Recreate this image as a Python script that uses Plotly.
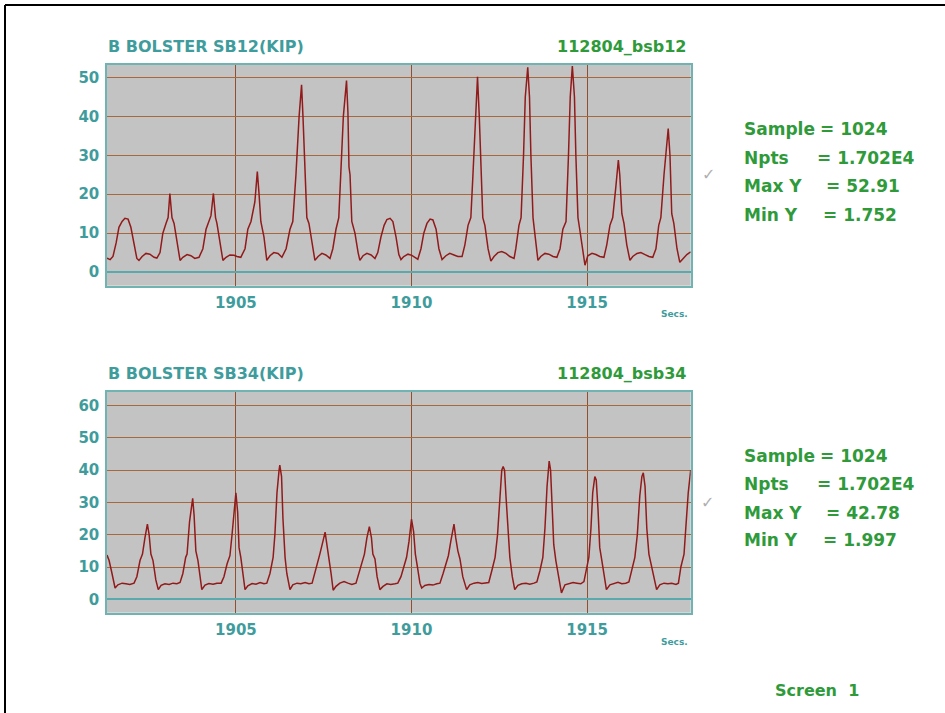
import plotly.graph_objects as go

# ---------------- data ----------------
t_top = [1901.33, 1901.42, 1901.50, 1901.59, 1901.67, 1901.76, 1901.84, 1901.93, 1902.01, 1902.10,
         1902.18, 1902.24, 1902.33, 1902.44, 1902.55, 1902.67, 1902.75, 1902.84, 1902.92, 1903.01,
         1903.07, 1903.12, 1903.18, 1903.24, 1903.32, 1903.41, 1903.49, 1903.61, 1903.72, 1903.83,
         1903.95, 1904.06, 1904.15, 1904.23, 1904.29, 1904.36, 1904.42, 1904.46, 1904.55, 1904.63,
         1904.72, 1904.83, 1904.95, 1905.03, 1905.14, 1905.26, 1905.34, 1905.43, 1905.54, 1905.61,
         1905.66, 1905.71, 1905.80, 1905.88, 1905.97, 1906.08, 1906.20, 1906.31, 1906.43, 1906.54,
         1906.62, 1906.71, 1906.80, 1906.87, 1906.91, 1906.97, 1907.02, 1907.08, 1907.17, 1907.25,
         1907.34, 1907.45, 1907.56, 1907.68, 1907.76, 1907.85, 1907.93, 1907.99, 1908.06, 1908.15,
         1908.19, 1908.22, 1908.25, 1908.30, 1908.39, 1908.48, 1908.53, 1908.62, 1908.73, 1908.85,
         1908.96, 1909.04, 1909.13, 1909.22, 1909.30, 1909.39, 1909.47, 1909.56, 1909.64, 1909.70,
         1909.78, 1909.90, 1910.01, 1910.13, 1910.18, 1910.27, 1910.35, 1910.44, 1910.53, 1910.61,
         1910.70, 1910.78, 1910.87, 1910.98, 1911.09, 1911.21, 1911.32, 1911.44, 1911.52, 1911.61,
         1911.69, 1911.75, 1911.82, 1911.88, 1911.93, 1911.98, 1912.03, 1912.09, 1912.18, 1912.26,
         1912.35, 1912.46, 1912.57, 1912.69, 1912.80, 1912.92, 1912.97, 1913.06, 1913.12, 1913.19,
         1913.24, 1913.31, 1913.36, 1913.40, 1913.46, 1913.51, 1913.60, 1913.68, 1913.80, 1913.91,
         1914.03, 1914.14, 1914.23, 1914.31, 1914.40, 1914.47, 1914.52, 1914.58, 1914.64, 1914.68,
         1914.74, 1914.79, 1914.88, 1914.94, 1915.02, 1915.14, 1915.25, 1915.36, 1915.48, 1915.56,
         1915.65, 1915.73, 1915.82, 1915.89, 1915.93, 1915.99, 1916.05, 1916.13, 1916.22, 1916.30,
         1916.42, 1916.53, 1916.65, 1916.76, 1916.87, 1916.96, 1917.04, 1917.10, 1917.19, 1917.26,
         1917.31, 1917.36, 1917.41, 1917.47, 1917.56, 1917.64, 1917.73, 1917.84, 1917.95]
y_top = [3.6, 3.2, 4.0, 7.5, 11.5, 13.0, 13.8, 13.6, 11.5, 7.0,
         3.5, 3.0, 4.0, 4.8, 4.6, 3.8, 3.6, 5.0, 10.0, 12.5,
         14.0, 20.2, 14.0, 12.5, 8.0, 3.0, 3.8, 4.5, 4.2, 3.5,
         3.8, 6.0, 11.0, 13.0, 14.5, 20.2, 14.0, 12.5, 7.0, 3.0,
         3.8, 4.4, 4.3, 4.0, 3.8, 6.0, 11.0, 13.0, 18.0, 25.8,
         20.0, 13.0, 9.0, 3.0, 4.2, 5.0, 4.8, 3.8, 6.0, 11.0,
         13.0, 25.0, 40.0, 48.1, 40.0, 25.0, 14.0, 12.5, 7.0, 3.0,
         4.0, 4.8, 4.4, 3.5, 6.0, 11.0, 14.0, 25.0, 40.0, 49.2,
         41.0, 27.0, 25.0, 13.0, 10.0, 5.0, 3.0, 4.2, 4.8, 4.4,
         3.5, 5.0, 9.0, 12.0, 13.5, 13.8, 13.0, 9.0, 4.5, 3.2,
         4.0, 4.6, 4.3, 3.6, 3.3, 6.0, 10.0, 12.5, 13.6, 13.4,
         11.0, 6.0, 3.2, 4.2, 4.8, 4.4, 4.0, 4.0, 7.0, 12.0,
         14.0, 25.0, 40.0, 50.2, 40.0, 25.0, 14.0, 12.0, 6.0, 2.8,
         4.0, 5.0, 5.3, 4.8, 4.0, 3.5, 6.0, 12.0, 14.0, 30.0,
         45.0, 52.6, 45.0, 30.0, 14.0, 10.0, 3.0, 4.0, 4.8, 4.6,
         4.0, 3.8, 6.0, 11.0, 13.0, 30.0, 45.0, 52.91, 45.0, 30.0,
         14.0, 11.0, 5.0, 1.752, 4.2, 4.8, 4.5, 4.0, 3.8, 7.0,
         12.0, 14.0, 22.0, 28.8, 25.0, 15.0, 12.5, 7.0, 3.0, 4.0,
         4.8, 5.0, 4.5, 4.0, 3.8, 6.0, 12.0, 14.0, 25.0, 33.0,
         36.9, 30.0, 15.0, 12.5, 6.0, 2.5, 3.5, 4.5, 5.2]

t_bot = [1901.33, 1901.39, 1901.46, 1901.52, 1901.56, 1901.64, 1901.76, 1901.87, 1901.98, 1902.10,
         1902.18, 1902.27, 1902.34, 1902.41, 1902.48, 1902.53, 1902.58, 1902.64, 1902.72, 1902.79,
         1902.87, 1902.98, 1903.10, 1903.21, 1903.32, 1903.41, 1903.49, 1903.57, 1903.61, 1903.68,
         1903.74, 1903.77, 1903.81, 1903.86, 1903.92, 1903.98, 1904.03, 1904.12, 1904.23, 1904.35,
         1904.46, 1904.58, 1904.66, 1904.75, 1904.83, 1904.89, 1904.95, 1905.00, 1905.05, 1905.09,
         1905.14, 1905.20, 1905.26, 1905.34, 1905.46, 1905.57, 1905.69, 1905.80, 1905.88, 1905.97,
         1906.06, 1906.11, 1906.17, 1906.23, 1906.25, 1906.30, 1906.34, 1906.40, 1906.45, 1906.54,
         1906.62, 1906.74, 1906.85, 1906.97, 1907.08, 1907.17, 1907.25, 1907.34, 1907.39, 1907.48,
         1907.54, 1907.59, 1907.65, 1907.71, 1907.77, 1907.85, 1907.96, 1908.08, 1908.19, 1908.30,
         1908.42, 1908.50, 1908.59, 1908.66, 1908.73, 1908.80, 1908.86, 1908.90, 1908.96, 1909.02,
         1909.10, 1909.19, 1909.30, 1909.41, 1909.53, 1909.61, 1909.70, 1909.78, 1909.86, 1909.93,
         1910.00, 1910.06, 1910.11, 1910.17, 1910.24, 1910.29, 1910.38, 1910.50, 1910.61, 1910.72,
         1910.81, 1910.90, 1910.98, 1911.05, 1911.12, 1911.21, 1911.26, 1911.32, 1911.38, 1911.46,
         1911.57, 1911.66, 1911.78, 1911.89, 1912.00, 1912.12, 1912.20, 1912.29, 1912.38, 1912.45,
         1912.52, 1912.57, 1912.61, 1912.65, 1912.69, 1912.75, 1912.80, 1912.87, 1912.94, 1913.03,
         1913.14, 1913.26, 1913.37, 1913.49, 1913.57, 1913.66, 1913.74, 1913.80, 1913.86, 1913.92,
         1913.96, 1914.00, 1914.05, 1914.11, 1914.20, 1914.27, 1914.37, 1914.48, 1914.60, 1914.71,
         1914.82, 1914.91, 1914.97, 1915.05, 1915.11, 1915.16, 1915.22, 1915.26, 1915.31, 1915.36,
         1915.42, 1915.49, 1915.55, 1915.65, 1915.76, 1915.88, 1915.99, 1916.10, 1916.19, 1916.27,
         1916.36, 1916.43, 1916.50, 1916.56, 1916.60, 1916.65, 1916.70, 1916.76, 1916.82, 1916.90,
         1916.98, 1917.07, 1917.19, 1917.30, 1917.41, 1917.53, 1917.60, 1917.67, 1917.76, 1917.81,
         1917.88, 1917.95]
y_bot = [13.7, 12.0, 8.6, 5.0, 3.5, 4.5, 5.0, 4.8, 4.6, 5.0,
         7.0, 12.0, 14.0, 19.0, 23.3, 20.0, 14.0, 12.0, 6.0, 3.0,
         4.3, 4.8, 4.6, 5.0, 4.8, 5.2, 8.0, 13.0, 14.0, 24.0,
         30.0, 31.3, 26.0, 15.0, 12.0, 6.0, 3.0, 4.4, 4.9, 4.7,
         5.0, 5.0, 7.0, 11.0, 13.5, 20.0, 27.0, 33.0, 27.0, 16.0,
         13.0, 8.0, 3.0, 4.2, 4.9, 4.7, 5.2, 4.8, 5.0, 8.0,
         13.0, 20.0, 33.0, 40.0, 41.6, 38.0, 25.0, 13.0, 8.0, 3.0,
         4.5, 5.0, 4.8, 5.2, 4.8, 5.0, 8.0, 12.0, 14.0, 18.0,
         20.8, 17.0, 13.0, 8.0, 2.8, 4.0, 5.0, 5.5, 5.0, 4.6,
         5.0, 8.0, 12.0, 14.0, 19.0, 22.5, 19.0, 14.0, 12.5, 7.0,
         3.0, 4.0, 4.8, 4.6, 4.8, 5.0, 7.0, 10.0, 13.0, 18.0,
         24.8, 21.0, 14.0, 10.0, 5.0, 3.5, 4.3, 4.6, 4.4, 4.8,
         5.0, 8.0, 11.0, 13.5, 18.0, 23.3, 19.0, 15.0, 12.5, 7.0,
         3.0, 4.5, 5.0, 5.2, 4.9, 5.0, 5.2, 9.0, 13.0, 20.0,
         32.0, 40.0, 41.1, 40.0, 32.0, 20.0, 13.0, 7.0, 3.0, 4.3,
         4.8, 5.0, 4.7, 5.0, 5.4, 9.0, 13.0, 22.0, 35.0, 42.78,
         40.0, 30.0, 17.0, 12.0, 6.0, 1.997, 4.5, 4.8, 5.2, 5.0,
         4.8, 5.5, 9.0, 13.0, 22.0, 33.0, 38.0, 37.0, 28.0, 16.0,
         12.0, 7.0, 3.0, 4.5, 5.0, 5.3, 4.8, 5.0, 5.4, 9.0,
         13.0, 20.0, 32.0, 38.0, 39.2, 35.0, 22.0, 14.0, 11.0, 6.0,
         3.0, 4.5, 5.0, 4.8, 5.0, 4.6, 5.0, 10.0, 14.0, 22.0,
         33.0, 40.0]

x_tick_vals = [1905, 1910, 1915]
y_ticks_top = [0, 10, 20, 30, 40, 50]
y_ticks_bot = [0, 10, 20, 30, 40, 50, 60]

titles_left = ["B BOLSTER SB12(KIP)", "B BOLSTER SB34(KIP)"]
titles_right = ["112804_bsb12", "112804_bsb34"]
stat_labels = ["Sample", "Npts", "Max Y", "Min Y"]
stats_top = ["= 1024", "= 1.702E4", "= 52.91", "= 1.752"]
stats_bot = ["= 1024", "= 1.702E4", "= 42.78", "= 1.997"]

# ---------------- styling ----------------
W, H = 945, 713
TEAL = "#3f9c9c"
GREEN = "#2f9a3a"
LINE = "#921a1a"
GRID = "#a8683e"
BG = "#c3c3c3"
FONT = "DejaVu Sans"


def px(x):
    return x / W


def py(y):
    return 1 - y / H


fig = go.Figure()
fig.add_trace(go.Scatter(x=t_top, y=y_top, mode="lines", xaxis="x", yaxis="y",
                         line=dict(color=LINE, width=1.5), showlegend=False, hoverinfo="skip"))
fig.add_trace(go.Scatter(x=t_bot, y=y_bot, mode="lines", xaxis="x2", yaxis="y2",
                         line=dict(color=LINE, width=1.5), showlegend=False, hoverinfo="skip"))

tickfont = dict(family=FONT, size=15, color=TEAL, weight="bold")
xcommon = dict(range=[1901.33, 1917.95], tickvals=x_tick_vals, ticks="",
               showgrid=True, gridcolor="#8f5030", gridwidth=1.3, zeroline=False,
               showline=True, linecolor="#6fb3b3", linewidth=1.5, mirror=True,
               tickfont=tickfont, ticklabelstandoff=3)
ycommon = dict(ticks="", showgrid=True, gridcolor=GRID, gridwidth=1.2,
               zeroline=True, zerolinecolor="#5aa9ad", zerolinewidth=2,
               showline=True, linecolor="#6fb3b3", linewidth=1.5, mirror=True,
               tickfont=tickfont, ticklabelstandoff=3)

fig.update_layout(
    width=W, height=H, margin=dict(l=0, r=0, t=0, b=0),
    paper_bgcolor="white", plot_bgcolor=BG,
    xaxis=dict(domain=[px(107), px(690.7)], anchor="y", **xcommon),
    yaxis=dict(domain=[py(285.7), py(65)], anchor="x", range=[-3.5, 53.2],
               tickvals=y_ticks_top, **ycommon),
    xaxis2=dict(domain=[px(107), px(690.7)], anchor="y2", **xcommon),
    yaxis2=dict(domain=[py(612.7), py(391.7)], anchor="x2", range=[-4.15, 64.3],
                tickvals=y_ticks_bot, **ycommon),
)

ann = []


def text(x, y, s, size, color, xanchor="left", weight="normal"):
    ann.append(dict(x=px(x), y=py(y), xref="paper", yref="paper", text=s, showarrow=False,
                    xanchor=xanchor, yanchor="middle",
                    font=dict(family=FONT, size=size, color=color, weight=weight)))


# titles
text(106, 47, titles_left[0], 16, TEAL, weight="bold")
text(689, 47, titles_right[0], 16, GREEN, xanchor="right", weight="bold")
text(106, 373, titles_left[1], 16, TEAL, weight="bold")
text(689, 373, titles_right[1], 16, GREEN, xanchor="right", weight="bold")

# "Secs."
text(690, 314, "Secs.", 9, TEAL, xanchor="right", weight="bold")
text(690, 642, "Secs.", 9, TEAL, xanchor="right", weight="bold")

# stats blocks
eq_x = [818, 815, 824, 821]
rows_top = [129, 158, 186, 215]
rows_bot = [456, 484, 513, 540]
for i in range(4):
    text(742, rows_top[i], stat_labels[i], 17, GREEN, weight="bold")
    text(eq_x[i], rows_top[i], stats_top[i], 17, GREEN, weight="bold")
    text(742, rows_bot[i], stat_labels[i], 17, GREEN, weight="bold")
    text(eq_x[i], rows_bot[i], stats_bot[i], 17, GREEN, weight="bold")

# check marks
text(708, 175, "\u2713", 16, "#b0b0b0", xanchor="center")
text(707, 502, "\u2713", 16, "#b0b0b0", xanchor="center")

# Screen 1
text(773, 690, "Screen\u00a0\u00a01", 16, GREEN, weight="bold")

fig.update_layout(annotations=ann)

# outer frame
fig.update_layout(shapes=[
    dict(type="line", xref="paper", yref="paper", x0=px(5), x1=1, y0=py(5), y1=py(5),
         line=dict(color="black", width=2)),
    dict(type="line", xref="paper", yref="paper", x0=px(5), x1=px(5), y0=py(5), y1=0,
         line=dict(color="black", width=2)),
])

fig.write_html("out.html")
